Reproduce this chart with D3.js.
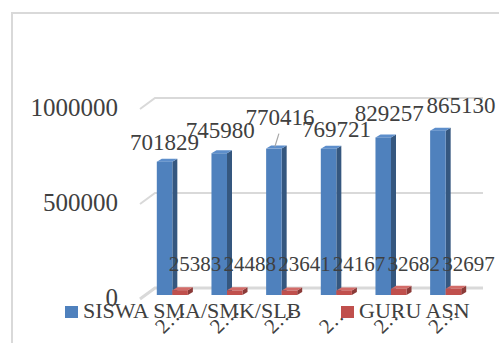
<!DOCTYPE html>
<html>
<head>
<meta charset="utf-8">
<script src="https://cdn.jsdelivr.net/npm/d3@7"></script>
<style>
  html, body { margin: 0; padding: 0; background: #fff; overflow: hidden; }
</style>
</head>
<body>
<div id="container"></div>
<script>
// data
const categories = ['2…', '2…', '2…', '2…', '2…', '2…'];
const siswa = [701829, 745980, 770416, 769721, 829257, 865130];
const guru = [25383, 24488, 23641, 24167, 32682, 32697];
const seriesNames = ['SISWA SMA/SMK/SLB', 'GURU ASN'];
const yTicks = [0, 500000, 1000000];

// label nudges for the blue data labels (dx from bar centre, dy from bar top)
const labelNudge = [[0, -17], [1, -21], [6, -29], [8, -17], [6, -22], [23, -23]];

const svgWidth = 499;
const svgHeight = 343;
const depthX = 5;
const depthY = -3;
const fontFamily = '"Liberation Serif", "Times New Roman", "DejaVu Serif", serif';
const textColor = '#404040';

const colors = {
  siswa: { front: '#4f81bd', side: '#35577f', top: '#5d8ecb' },
  guru: { front: '#c0504d', side: '#8b3a38', top: '#d26b68' }
};

const svg = d3
  .select('#container')
  .append('svg')
  .attr('width', svgWidth)
  .attr('height', svgHeight)
  .attr('font-family', fontFamily)
  .attr('fill', textColor);

// chart frame (cropped)
svg.append('path')
  .attr('d', `M12,${svgHeight} L12,13 L${svgWidth},13`)
  .attr('fill', 'none')
  .attr('stroke', '#d9d9d9')
  .attr('stroke-width', 2);

// scales
const yScale = d3.scaleLinear().domain([0, 1000000]).range([295, 105]);

const x0 = d3
  .scaleBand()
  .domain(d3.range(categories.length))
  .range([145, 473]);

const x1 = d3
  .scaleBand()
  .domain(['siswa', 'guru'])
  .range([0, x0.bandwidth()])
  .paddingOuter(0.76);

// gridlines (3D wall)
const grid = svg.append('g');
yTicks.forEach(v => {
  const y = yScale(v);
  grid.append('path')
    .attr('d', `M140,${y + 4} L155,${y - 7} L483,${y - 7}`)
    .attr('fill', 'none')
    .attr('stroke', '#d9d9d9')
    .attr('stroke-width', v === 0 ? 3 : 2);
});

// y axis labels
svg.append('g')
  .selectAll('text')
  .data(yTicks)
  .enter()
  .append('text')
  .attr('x', 118)
  .attr('y', d => yScale(d) + 5)
  .attr('text-anchor', 'end')
  .attr('dominant-baseline', 'middle')
  .attr('font-size', 25)
  .text(d => d);

// 3D bar helper
const drawBar = (g, x, w, v, c) => {
  const yTop = yScale(v);
  const yBot = yScale(0);
  g.append('path')
    .attr('d', `M${x + w},${yTop} L${x + w + depthX},${yTop + depthY} L${x + w + depthX},${yBot + depthY} L${x + w},${yBot} Z`)
    .attr('fill', c.side);
  g.append('path')
    .attr('d', `M${x},${yTop} L${x + depthX},${yTop + depthY} L${x + w + depthX},${yTop + depthY} L${x + w},${yTop} Z`)
    .attr('fill', c.top);
  g.append('rect')
    .attr('x', x)
    .attr('y', yTop)
    .attr('width', w)
    .attr('height', yBot - yTop)
    .attr('fill', c.front);
};

const bars = svg.append('g');
categories.forEach((c, i) => {
  drawBar(bars, x0(i) + x1('siswa'), x1.bandwidth(), siswa[i], colors.siswa);
  drawBar(bars, x0(i) + x1('guru'), x1.bandwidth(), guru[i], colors.guru);
});

// data labels - siswa
const labels = svg.append('g');
siswa.forEach((v, i) => {
  const cx = x0(i) + x1('siswa') + x1.bandwidth() / 2;
  const top = yScale(v);
  const [dx, dy] = labelNudge[i];
  if (dy < -25) {
    labels.append('line')
      .attr('x1', cx + 1)
      .attr('y1', top - 2)
      .attr('x2', cx + 5)
      .attr('y2', top + dy + 14)
      .attr('stroke', '#a6a6a6')
      .attr('stroke-width', 1.2);
  }
  labels.append('text')
    .attr('x', cx + dx)
    .attr('y', top + dy)
    .attr('text-anchor', 'middle')
    .attr('dominant-baseline', 'middle')
    .attr('font-size', 23)
    .text(v);
});

// data labels - guru
guru.forEach((v, i) => {
  const cx = x0(i) + x1('guru') + x1.bandwidth() / 2;
  labels.append('text')
    .attr('x', cx + 15)
    .attr('y', 266)
    .attr('text-anchor', 'middle')
    .attr('dominant-baseline', 'middle')
    .attr('font-size', 21)
    .text(v);
});

// category labels (truncated, rotated)
svg.append('g')
  .selectAll('text')
  .data(categories)
  .enter()
  .append('text')
  .attr('transform', (d, i) => `translate(${x0(i) + x0.bandwidth() / 2 + 10}, 309) rotate(-45)`)
  .attr('text-anchor', 'end')
  .attr('dominant-baseline', 'middle')
  .attr('font-size', 21)
  .text(d => d);

// legend
const legend = svg.append('g');
const legendItems = [
  { name: seriesNames[0], color: colors.siswa.front, x: 65 },
  { name: seriesNames[1], color: colors.guru.front, x: 341 }
];
legendItems.forEach(item => {
  legend.append('rect')
    .attr('x', item.x)
    .attr('y', 306)
    .attr('width', 13)
    .attr('height', 12)
    .attr('fill', item.color);
  legend.append('text')
    .attr('x', item.x + 18)
    .attr('y', 313)
    .attr('dominant-baseline', 'middle')
    .attr('font-size', 22)
    .text(item.name);
});
</script>
</body>
</html>
